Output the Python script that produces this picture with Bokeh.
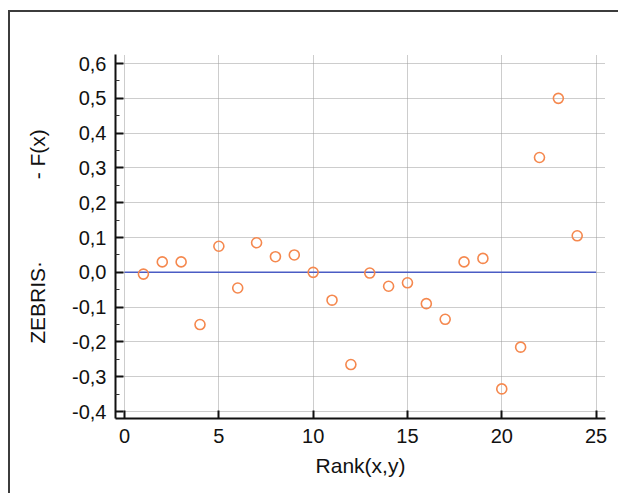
from bokeh.plotting import figure
from bokeh.embed import file_html
from bokeh.resources import INLINE
from bokeh.models import Range1d, FixedTicker, CustomJSTickFormatter, ColumnDataSource

# data
rank = [1, 2, 3, 4, 5, 6, 7, 8, 9, 10, 11, 12, 13, 14, 15, 16, 17, 18, 19, 20, 21, 22, 23, 24]
diff = [-0.005, 0.030, 0.030, -0.150, 0.075, -0.045, 0.085, 0.045, 0.050, 0.000,
        -0.080, -0.265, -0.002, -0.040, -0.030, -0.090, -0.135, 0.030, 0.040, -0.335,
        -0.215, 0.330, 0.500, 0.105]
zero_x = [0, 25]
zero_y = [0.0, 0.0]
x_ticks = [0, 5, 10, 15, 20, 25]
y_ticks = [-0.4, -0.3, -0.2, -0.1, 0.0, 0.1, 0.2, 0.3, 0.4, 0.5, 0.6]
y_minor = [-0.35, -0.25, -0.15, -0.05, 0.05, 0.15, 0.25, 0.35, 0.45, 0.55]
x_label = "Rank(x,y)"
y_label = "ZEBRIS\u00b7" + "\u00a0" * 14 + "- F(x)"

FONT = "Liberation Sans"

p = figure(frame_width=490, frame_height=364, output_backend="svg", toolbar_location=None,
           x_range=Range1d(-0.48, 25.5), y_range=Range1d(-0.42, 0.626),
           min_border_left=105, min_border_right=13, min_border_top=42, min_border_bottom=75)
p.margin = (10, 0, 0, 8)
p.styles = {"border-left": "2px solid #3c3c3c", "border-top": "2px solid #3c3c3c"}
p.outline_line_color = None
p.background_fill_color = "white"
p.border_fill_color = "white"

p.line(zero_x, zero_y, line_color="#4a5cc4", line_width=1.5)
src = ColumnDataSource(dict(x=rank, y=diff))
p.scatter("x", "y", source=src, marker="circle", size=10, fill_color=None,
          line_color="#f5884e", line_width=1.6)

for ax in (p.xaxis[0], p.yaxis[0]):
    ax.axis_line_color = "#111111"
    ax.axis_line_width = 2
    ax.major_tick_line_color = "#111111"
    ax.major_tick_line_width = 2
    ax.major_tick_in = 8
    ax.major_tick_out = 0
    ax.minor_tick_line_color = "#333333"
    ax.minor_tick_line_width = 1
    ax.minor_tick_in = 4
    ax.minor_tick_out = 0
    ax.major_label_text_font = FONT
    ax.major_label_text_font_size = "20px"
    ax.major_label_text_color = "#111111"
    ax.axis_label_text_font = FONT
    ax.axis_label_text_font_size = "21px"
    ax.axis_label_text_font_style = "normal"
    ax.axis_label_text_color = "#111111"

p.xaxis[0].ticker = FixedTicker(ticks=x_ticks)
p.xaxis[0].minor_tick_line_color = None
p.xaxis[0].major_label_standoff = 10
p.xaxis[0].axis_label = x_label
p.xaxis[0].axis_label_standoff = 8

p.yaxis[0].ticker = FixedTicker(ticks=y_ticks, minor_ticks=y_minor)
p.yaxis[0].formatter = CustomJSTickFormatter(code="return tick.toFixed(1).replace('.', ',');")
p.yaxis[0].major_label_standoff = 9
p.yaxis[0].axis_label = y_label
p.yaxis[0].axis_label_standoff = 20

for g in (p.xgrid[0], p.ygrid[0]):
    g.grid_line_color = "#9a9a9a"
    g.grid_line_dash = "1 1"
    g.grid_line_width = 1

open("out.html", "w").write(file_html(p, INLINE))
